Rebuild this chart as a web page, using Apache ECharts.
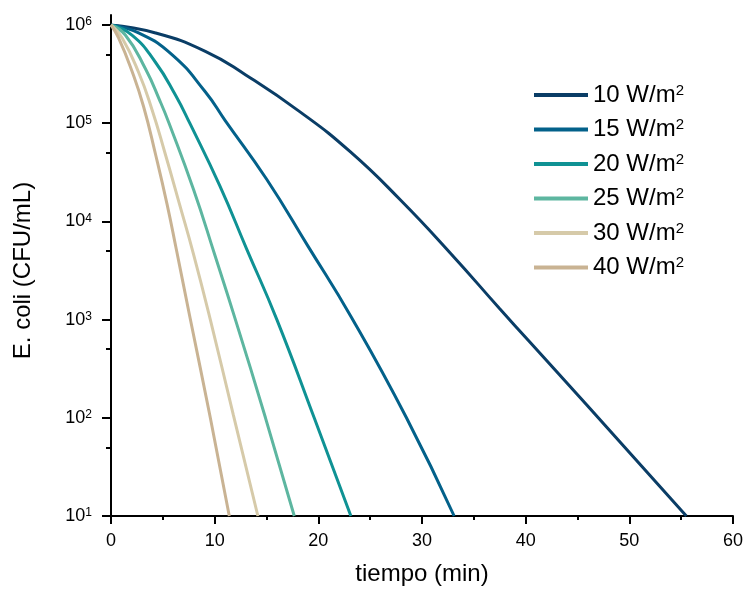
<!DOCTYPE html>
<html>
<head>
<meta charset="utf-8">
<script src="https://cdn.jsdelivr.net/npm/echarts@6/dist/echarts.min.js"></script>
<style>
  html, body { margin: 0; padding: 0; background: #fff; }
  #chart { width: 745px; height: 589px; }
</style>
</head>
<body>
<div id="chart"></div>
<script>
// irradiance levels shown in the legend
const seriesNames = ["10 W/m2", "15 W/m2", "20 W/m2", "25 W/m2", "30 W/m2", "40 W/m2"];

// time (min) / E. coli (CFU/mL)
const t10 = [0, 4.3, 9.1, 13.0, 18.3, 23.1, 27.9, 32.7, 37.5, 40.4, 45.9, 55.5];
const cfu10 = [1e6, 8.3e5, 5.4e5, 3.1e5, 1.29e5, 5.1e4, 1.66e4, 4.8e3, 1.29e3, 590, 135, 10];

const t15 = [0, 2.66, 5.88, 9.09, 11.0, 15.0, 19.0, 23.2, 28.5, 33.1];
const cfu15 = [1e6, 8.3e5, 5.0e5, 2.09e5, 1.07e5, 2.7e4, 5.6e3, 1.05e3, 100, 10];

const t20 = [0, 2.02, 4.27, 6.2, 7.6, 10.5, 13.1, 16.0, 19.6, 23.14];
const cfu20 = [1e6, 7.9e5, 4.2e5, 1.95e5, 1e5, 2.3e4, 5.2e3, 1000, 100, 10];

const t25 = [0, 1.38, 3.31, 4.75, 5.6, 7.97, 10.0, 12.0, 14.9, 17.68];
const cfu25 = [1e6, 7.9e5, 3.6e5, 1.66e5, 1e5, 2.1e4, 4.6e3, 1000, 100, 10];

const t30 = [0, 1.06, 2.66, 3.95, 5.2, 6.6, 7.97, 9.58, 11.8, 14.17];
const cfu30 = [1e6, 7.4e5, 3.3e5, 1.38e5, 5.0e4, 1.51e4, 4.6e3, 1000, 107, 10];

const t40 = [0, 0.73, 2.02, 3.14, 4.3, 5.4, 6.3, 7.58, 9.58, 11.41];
const cfu40 = [1e6, 7.4e5, 3.4e5, 1.48e5, 4.8e4, 1.51e4, 5.2e3, 1.1e3, 100, 10];

const xTicks = [0, 10, 20, 30, 40, 50, 60];
// minor ticks at 5 x 10^n, given as log10 values for the helper axis
const yMinorTicks = [1.699, 2.699, 3.699, 4.699, 5.699];

const lineColors = ["#0a3d66", "#03618a", "#0f9294", "#5db6a0", "#d6caa9", "#c9b393"];
const font = "Liberation Sans, Arial, sans-serif";

const times = [t10, t15, t20, t25, t30, t40];
const counts = [cfu10, cfu15, cfu20, cfu25, cfu30, cfu40];

function pairs(xs, ys) {
  let out = [];
  for (let i = 0; i < xs.length; i++) {
    out.push([xs[i], ys[i]]);
  }
  return out;
}

let chart = echarts.init(document.getElementById("chart"));

let series = seriesNames.map((name, i) => ({
  name: name,
  type: "line",
  data: pairs(times[i], counts[i]),
  smooth: 0.5,
  showSymbol: false,
  symbol: "none",
  animation: false,
  lineStyle: { color: lineColors[i], width: 3 },
  itemStyle: { color: lineColors[i] }
}));

chart.setOption({
  backgroundColor: "#fff",
  textStyle: { fontFamily: font },
  grid: [
    { left: 111, right: 12, top: 25, bottom: 73, outerBoundsMode: "none" },
    // helper grid: same scale per decade, axis line runs a bit above 10^6
    { left: 111, right: 12, top: 15, bottom: 73, outerBoundsMode: "none" }
  ],
  legend: {
    orient: "vertical",
    left: 529,
    top: 78,
    icon: "rect",
    itemWidth: 54,
    itemHeight: 4,
    itemGap: 10.5,
    data: seriesNames,
    formatter: name => name.replace(/m2$/, "m{sup|2}"),
    textStyle: {
      fontSize: 24,
      color: "#000",
      fontFamily: font,
      lineHeight: 24,
      rich: {
        sup: { fontSize: 15, verticalAlign: "top", lineHeight: 15, fontFamily: font, color: "#000" }
      }
    }
  },
  xAxis: [
    {
      type: "value",
      gridIndex: 0,
      min: 0,
      max: 60,
      interval: 10,
      name: "tiempo (min)",
      nameLocation: "middle",
      nameGap: 46,
      nameTextStyle: { fontSize: 24, color: "#000", fontFamily: font },
      axisLine: { show: true, onZero: false, lineStyle: { color: "#000", width: 2 } },
      axisTick: { show: true, length: 8, lineStyle: { color: "#000", width: 2 } },
      minorTick: { show: true, splitNumber: 2, length: 4, lineStyle: { color: "#000", width: 2 } },
      axisLabel: { margin: 16, fontSize: 18, color: "#000", fontFamily: font, customValues: xTicks },
      splitLine: { show: false }
    },
    {
      type: "value",
      gridIndex: 1,
      min: 0,
      max: 60,
      show: false
    }
  ],
  yAxis: [
    {
      type: "log",
      gridIndex: 0,
      logBase: 10,
      min: 10,
      max: 1e6,
      name: "E. coli (CFU/mL)",
      nameLocation: "middle",
      nameGap: 76,
      nameRotate: 90,
      nameTextStyle: { fontSize: 24, color: "#000", fontFamily: font },
      axisLine: { show: true, lineStyle: { color: "#000", width: 2 } },
      axisTick: { show: true, length: 9, lineStyle: { color: "#000", width: 2 } },
      axisLabel: {
        margin: 19,
        fontSize: 18,
        color: "#000",
        fontFamily: font,
        formatter: v => "10{sup|" + Math.round(Math.log10(v)) + "}",
        rich: {
          sup: { fontSize: 12, verticalAlign: "top", lineHeight: 12, fontFamily: font, color: "#000" }
        }
      },
      splitLine: { show: false }
    },
    {
      // helper axis in decades: minor ticks and the axis line above 10^6
      type: "value",
      gridIndex: 1,
      min: 1,
      max: 6.1,
      position: "left",
      axisLine: { show: true, onZero: false, lineStyle: { color: "#000", width: 2 } },
      axisLabel: { show: false },
      axisTick: { show: true, length: 5, customValues: yMinorTicks, lineStyle: { color: "#000", width: 2 } },
      splitLine: { show: false }
    }
  ],
  series: series
});
</script>
</body>
</html>
